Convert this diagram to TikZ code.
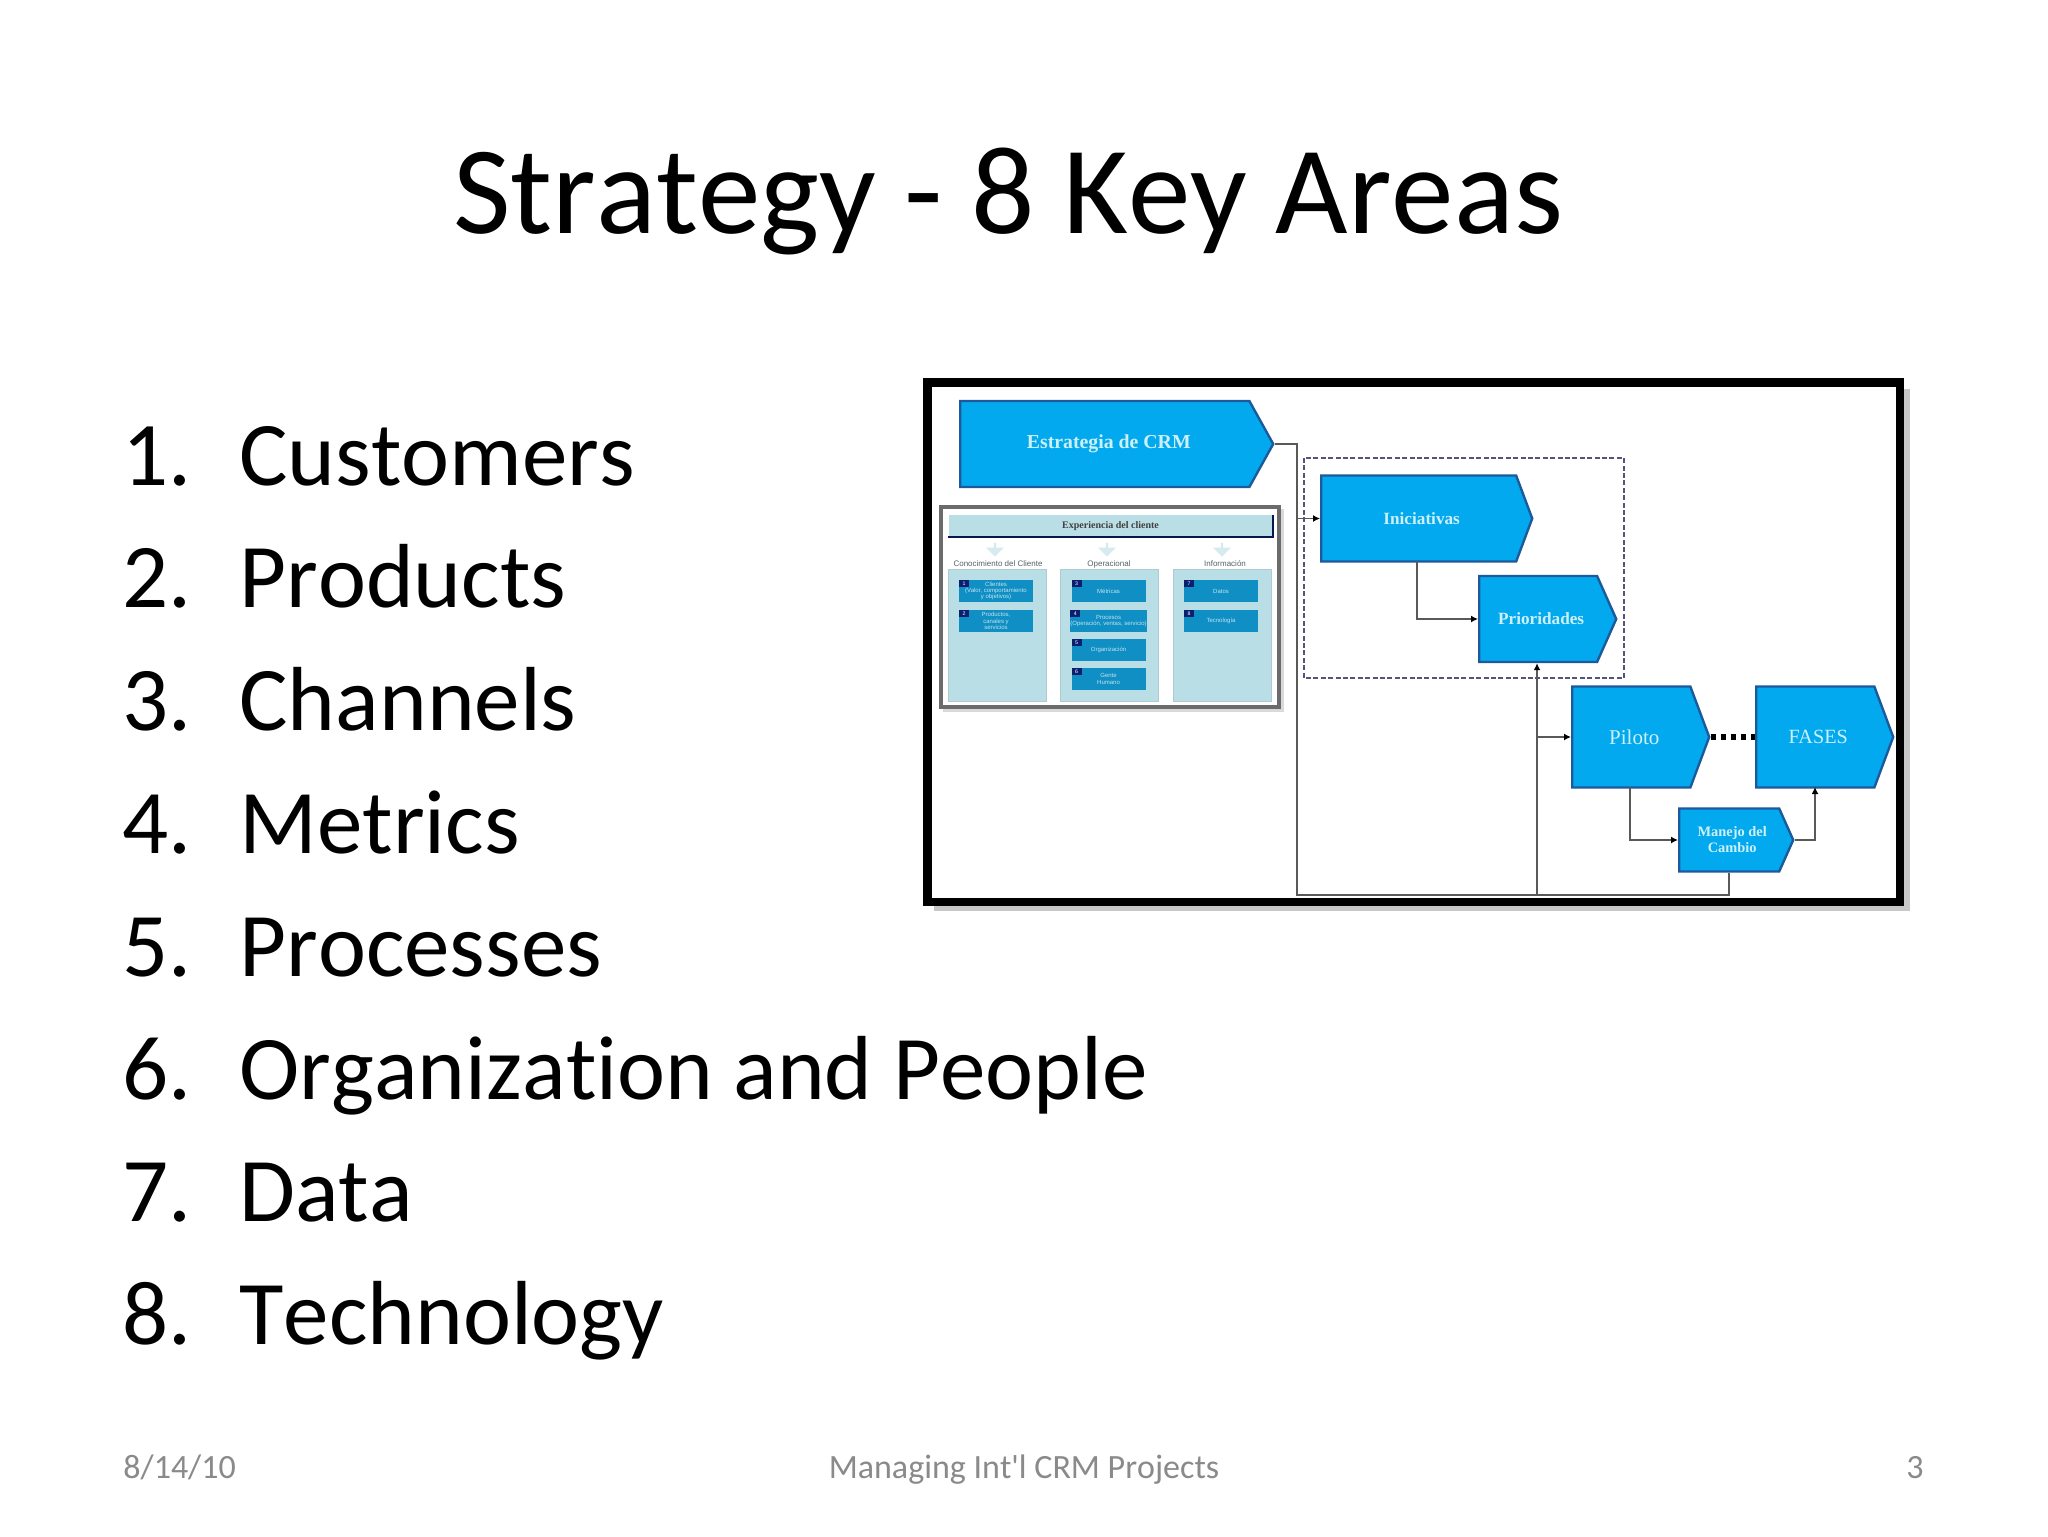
\documentclass[tikz,border=0pt]{standalone}
\usepackage{fontspec}
\setmainfont{Carlito}[Ligatures={NoCommon,TeXOff},Kerning=Off]
\newfontfamily\insetserif{Liberation Serif}
\newfontfamily\insetsans{Liberation Sans}
\usetikzlibrary{shapes.symbols,shapes.arrows,arrows.meta}
\definecolor{footgray}{HTML}{8A8A8A}
\definecolor{pentblue}{HTML}{03A9EE}
\definecolor{pentedge}{HTML}{1C5A9C}
\definecolor{penttext}{HTML}{CDF0F8}
\definecolor{palecyan}{HTML}{B9DEE5}
\definecolor{tealbox}{HTML}{0F8FC4}
\definecolor{navybadge}{HTML}{0B1F70}
\definecolor{dashedge}{HTML}{55557A}
\tikzset{
    titletext/.style={anchor=base west, inner sep=0pt, font=\fontsize{62.6}{70}\selectfont},
    listtext/.style={anchor=base west, inner sep=0pt, font=\fontsize{45.5}{52}\selectfont},
    foottext/.style={inner sep=0pt, text=footgray, font=\fontsize{17}{20}\selectfont},
    pentbox/.style={signal, signal to=east, signal from=nowhere, anchor=west, draw=pentedge, fill=pentblue,
        line width=1.2pt, inner sep=0pt, text=penttext, align=center},
    colbox/.style={draw=palecyan!80!gray, fill=palecyan, line width=0.5pt, minimum width=49pt, minimum height=66pt, inner sep=0pt},
    smallbox/.style={fill=tealbox, minimum width=37pt, minimum height=11pt, inner sep=0pt, text=white!75!tealbox,
        align=center, font=\insetsans\fontsize{3}{3.6}\selectfont},
    badgebox/.style={fill=navybadge, minimum width=5pt, minimum height=3.6pt, inner sep=0pt, anchor=north west,
        text=white, font=\insetsans\fontsize{2.6}{3}\selectfont},
    downarrow/.style={single arrow, shape border rotate=270, fill=palecyan!60!white, minimum height=7pt, minimum width=9pt,
        single arrow head extend=1.5pt, inner sep=0pt},
    collabel/.style={inner sep=0pt, text=black!55!palecyan, font=\insetsans\fontsize{4}{5}\selectfont},
    wire/.style={draw=black!65, line width=0.8pt},
    wirearrow/.style={wire, -{Latex[length=3.5pt,width=3.5pt,black]}}
}
\begin{document}
\begin{tikzpicture}[x=0.5pt, y=-0.5pt]
    \useasboundingbox (0,0) rectangle (2048,1536);
    \fill[white] (0,0) rectangle (2048,1536);

    \node[titletext] (title) at (453,233.5) {Strategy - 8 Key Areas};

    % the numbered list
    \foreach \num/\word in {1/Customers,2/Products,3/Channels,4/Metrics,5/Processes,6/Organization and People,7/Data,8/Technology}{
        \node[listtext] (num\num) at (122,{485+(\num-1)*122.8}) {\num.};
        \node[listtext] (item\num) at (239,{485+(\num-1)*122.8}) {\word};
    }

    \node[foottext, anchor=base west] (footdate) at (123,1478.5) {8/14/10};
    \node[foottext, anchor=base] (footname) at (1024,1478.5) {Managing Int'l CRM Projects};
    \node[foottext, anchor=base east] (footpage) at (1924,1478.5) {3};

    % inset frame
    \fill[black!22] (934,389) rectangle (1910,911);
    \filldraw[draw=black, fill=white, line width=4.2pt] (927.5,382.5) rectangle (1900,902);

    % left panel
    \fill[black!15] (943,509) rectangle (1284,712);
    \filldraw[draw=black!58, fill=white, line width=2pt] (941,507) rectangle (1279,707);
    \node[draw=none, fill=palecyan, minimum width=162pt, minimum height=11pt, inner sep=0pt,
        font=\insetserif\bfseries\fontsize{5}{6}\selectfont, text=black!75] (header) at (1110.5,526) {Experiencia del cliente};
    \draw[draw=navybadge!70!black, line width=1pt] (header.south west) -- (header.south east) -- (header.north east);

    \node[downarrow] (arrowa) at (995,549) {};
    \node[downarrow] (arrowb) at (1107,549) {};
    \node[downarrow] (arrowc) at (1222,549) {};
    \node[collabel] (labela) at (998,564) {Conocimiento del Cliente};
    \node[collabel] (labelb) at (1109,564) {Operacional};
    \node[collabel] (labelc) at (1225,564) {Información};

    \node[colbox] (cola) at (997.5,635) {};
    \node[colbox] (colb) at (1109.5,635) {};
    \node[colbox] (colc) at (1222,635) {};

    \foreach \name/\x/\y/\num/\word in {
        boxa/996/591/1/{Clientes\\[-0.4pt](Valor, comportamiento\\[-0.4pt]y objetivos)},
        boxb/996/621/2/{Productos,\\[-0.4pt]canales y\\[-0.4pt]servicios},
        boxc/1108.5/591/3/Métricas,
        boxd/1108.5/621/4/{Procesos\\[-0.4pt](Operación, ventas, servicio)},
        boxe/1108.5/650/5/Organización,
        boxf/1108.5/679/6/{Gente\\[-0.4pt]Humano},
        boxg/1221/591/7/Datos,
        boxh/1221/621/8/Tecnología}{
        \node[smallbox] (\name) at (\x,\y) {\word};
        \node[badgebox] (badge\num) at (\name.north west) {\num};
    }

    % pentagons on the right
    \node[pentbox, signal pointer angle=122, minimum width=156.5pt, minimum height=43pt,
        font=\insetserif\bfseries\fontsize{9.9}{11}\selectfont] (estrategia) at (959,444) {\hspace*{4pt}\raisebox{-1.2pt}{Estrategia de CRM}};
    \draw[draw=dashedge, line width=1.2pt, dashed, dash pattern=on 2.5pt off 1.2pt] (1304,458) rectangle (1624,678);
    \node[pentbox, signal pointer angle=139, minimum width=105.5pt, minimum height=43pt,
        font=\insetserif\bfseries\fontsize{8.6}{10}\selectfont] (iniciativas) at (1320,518.5) {\hspace*{3pt}Iniciativas};
    \node[pentbox, signal pointer angle=132, minimum width=68.5pt, minimum height=43pt,
        font=\insetserif\bfseries\fontsize{8.6}{10}\selectfont] (prioridades) at (1478,619) {\hspace*{3pt}Prioridades};
    \node[pentbox, signal pointer angle=139, minimum width=68.5pt, minimum height=50.5pt,
        font=\insetserif\fontsize{10.5}{12}\selectfont] (piloto) at (1571,737) {\hspace*{3pt}Piloto};
    \node[pentbox, signal pointer angle=139, minimum width=68.5pt, minimum height=50.5pt,
        font=\insetserif\fontsize{10.1}{12}\selectfont] (fases) at (1755,737) {\hspace*{3pt}FASES};
    \node[pentbox, signal pointer angle=132, minimum width=57pt, minimum height=31.5pt,
        font=\insetserif\bfseries\fontsize{7.2}{8}\selectfont] (manejo) at (1678,840) {\hspace*{3pt}Manejo del\\\hspace*{3pt}Cambio};

    % connectors
    \coordinate (busa) at (1297,895);
    \coordinate (busb) at (1537,895);
    \draw[wire] (estrategia.east) -| (busa) -- (manejo.south |- busa) -- (manejo.south);
    \draw[wirearrow] (busa |- iniciativas.west) -- (iniciativas.west);
    \draw[wirearrow] (busb) -- (busb |- prioridades.south);
    \draw[wirearrow] (busb |- piloto.west) -- (piloto.west);
    \coordinate (iniout) at (1417,561);
    \draw[wirearrow] (iniout) |- (prioridades.west);
    \coordinate (pilout) at (1630,787);
    \draw[wirearrow] (pilout) |- (manejo.west);
    \coordinate (fasin) at (1815,787);
    \draw[wirearrow] (manejo.east) -| (fasin);
    \draw[draw=black, line width=2.6pt, dash pattern=on 2.6pt off 2.4pt] (piloto.east) -- (fases.west);
\end{tikzpicture}
\end{document}
